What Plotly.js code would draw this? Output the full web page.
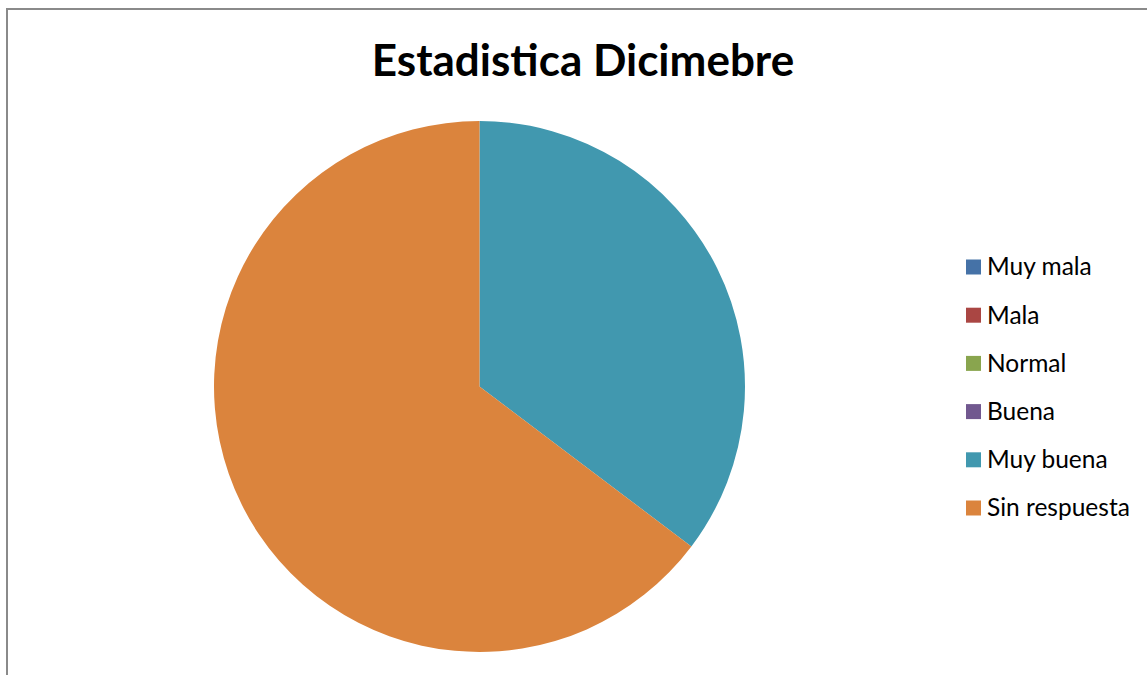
<!DOCTYPE html>
<html>
<head>
<meta charset="utf-8">
<script src="https://cdn.plot.ly/plotly-3.0.1.min.js"></script>
<style>
html,body{margin:0;padding:0;background:#fff;}
#chart{width:1147px;height:675px;}
</style>
</head>
<body>
<div id="chart"></div>
<script>
const categories = ["Muy mala", "Mala", "Normal", "Buena", "Muy buena", "Sin respuesta"];
const values = [0, 0, 0, 0, 6, 11];
const colors = ["#4572A7", "#AA4643", "#89A54E", "#71588F", "#4198AF", "#DB843D"];

const W = 1147, H = 675;
const fontFam = "Lato, 'Open Sans', sans-serif";

const shapes = [{
  type: "rect", xref: "paper", yref: "paper",
  x0: 7/W, x1: 1.01, y0: -0.01, y1: 1 - 9/H,
  line: {color: "#8a8a8a", width: 2}, fillcolor: "rgba(0,0,0,0)"
}];
const annotations = [];
const legX = 966, legY0 = 267, legStep = 48.2, sw = 15;
categories.forEach((c, i) => {
  const cy = legY0 + i * legStep;
  shapes.push({
    type: "rect", xref: "paper", yref: "paper",
    x0: legX / W, x1: (legX + sw) / W,
    y0: 1 - (cy + sw / 2) / H, y1: 1 - (cy - sw / 2) / H,
    fillcolor: colors[i], line: {width: 0}
  });
  annotations.push({
    xref: "paper", yref: "paper", x: 985 / W, y: 1 - (cy - 1) / H,
    xanchor: "left", yanchor: "middle", showarrow: false,
    text: c, font: {family: fontFam, size: 24.5, color: "#000"}
  });
});

const data = [{
  type: "pie",
  labels: categories,
  values: values,
  marker: {colors: colors, line: {color: "#ffffff", width: 0}},
  sort: false,
  direction: "clockwise",
  rotation: 0,
  textinfo: "none",
  hoverinfo: "label+value+percent",
  domain: {x: [214/W, 745/W], y: [1 - 652/H, 1 - 121/H]},
  showlegend: false
}];

const layout = {
  width: W, height: H,
  margin: {l: 0, r: 0, t: 0, b: 0},
  paper_bgcolor: "#ffffff",
  title: {
    text: "<b>Estadistica Dicimebre</b>",
    font: {family: fontFam, size: 44, color: "#000"},
    x: 583/W, xanchor: "center", y: 1 - 61/H, yanchor: "middle"
  },
  showlegend: false,
  shapes: shapes,
  annotations: annotations
};

Plotly.newPlot("chart", data, layout, {displayModeBar: false, staticPlot: true});
</script>
</body>
</html>
